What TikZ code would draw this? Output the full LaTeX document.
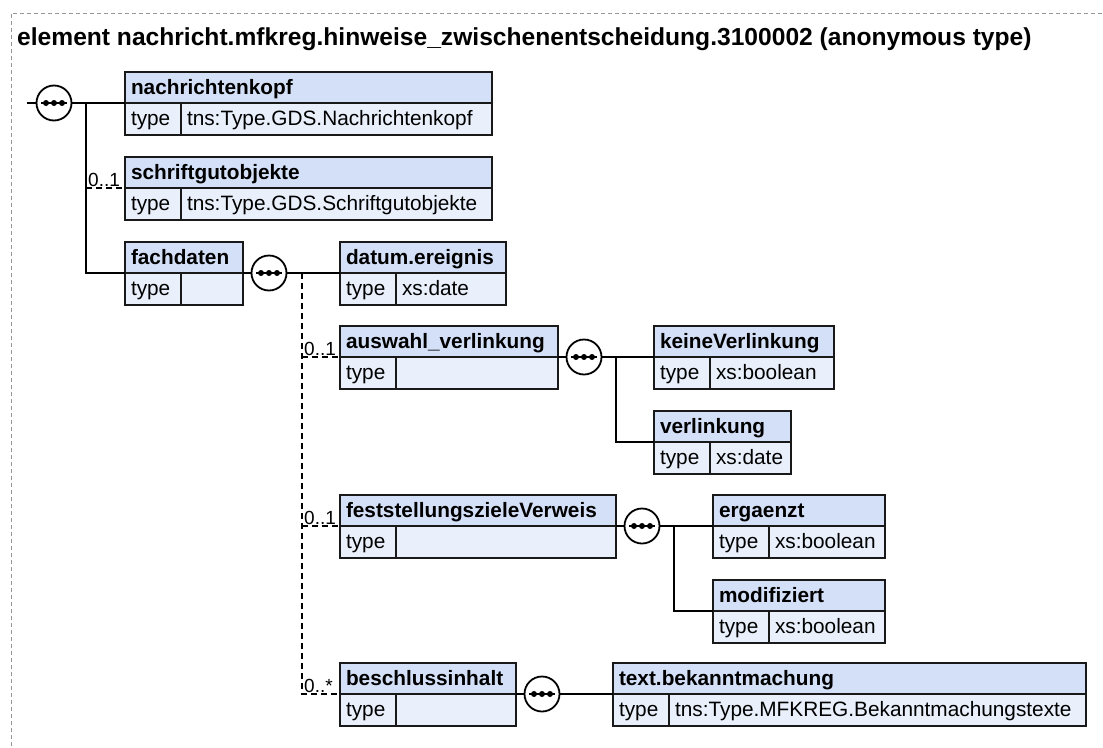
\documentclass[tikz,border=0pt]{standalone}
\usepackage{fontspec}
\setmainfont{Liberation Sans}
\definecolor{hdrfill}{RGB}{212,224,247}
\definecolor{rowfill}{RGB}{233,240,251}
\definecolor{boxline}{RGB}{25,25,25}
\definecolor{framegray}{RGB}{150,150,150}
\tikzset{
  boxtext/.style={font=\fontsize{20.8}{23}\selectfont, text height=15.5pt, text depth=2.5pt},
  hdr/.style={boxtext, font=\fontsize{20.8}{23}\selectfont\bfseries, draw=boxline, line width=2pt, fill=hdrfill,
    inner xsep=6pt, inner ysep=0pt, outer sep=0pt, minimum height=31pt, anchor=north west, align=left},
  tcell/.style={boxtext, draw=boxline, line width=2pt, fill=rowfill, inner xsep=6pt, inner ysep=0pt,
    outer sep=0pt, minimum height=32pt, text width=44pt, anchor=north west, align=left},
  vcell/.style={tcell},
  conn/.style={line width=1.8pt, draw=black},
  optconn/.style={conn, line width=1.6pt, dash pattern=on 6pt off 4pt},
  card/.style={font=\fontsize{19}{21}\selectfont, inner sep=1pt, anchor=south west},
  seq/.style={circle, draw=black, line width=1.8pt, fill=white, minimum size=35pt, inner sep=0pt, outer sep=0pt,
    path picture={
      \draw[draw=black, line width=2pt] ([xshift=-13pt]path picture bounding box.center) -- ([xshift=13pt]path picture bounding box.center);
      \fill[fill=black] ([xshift=-8pt]path picture bounding box.center) circle (3pt);
      \fill[fill=black] (path picture bounding box.center) circle (3pt);
      \fill[fill=black] ([xshift=8pt]path picture bounding box.center) circle (3pt);
    }},
  outerframe/.style={draw=framegray, line width=1pt, dash pattern=on 4pt off 3pt},
}
\newcommand{\xsdelem}[6]{%
  \pgfmathsetmacro{\xhw}{#4-12}\pgfmathsetmacro{\xvw}{#4-68}%
  \node[hdr, text width=\xhw pt] (#1) at (#2,#3) {#5};
  \node[tcell] (#1-t) at (#2,#3+31) {type};
  \node[vcell, text width=\xvw pt] (#1-v) at (#2+56,#3+31) {#6};
}
\begin{document}
\begin{tikzpicture}[x=1pt,y=-1pt]
\useasboundingbox (0,0) rectangle (1103,747);
\draw[outerframe] (11,760) -- (11,13) -- (1110,13);
\node[anchor=base west, inner sep=0pt, font=\fontsize{24.6}{28}\selectfont\bfseries] (title) at (17,45)
  {element nachricht.mfkreg.hinweise\_zwischenentscheidung.3100002 (anonymous type)};

\xsdelem{nk}{125}{72}{367}{nachrichtenkopf}{tns:Type.GDS.Nachrichtenkopf}
\xsdelem{sg}{125}{157}{367}{schriftgutobjekte}{tns:Type.GDS.Schriftgutobjekte}
\xsdelem{fd}{125}{242}{118}{fachdaten}{}
\xsdelem{de}{340}{242}{166}{datum.ereignis}{xs:date}
\xsdelem{av}{340}{326}{218}{auswahl\_verlinkung}{}
\xsdelem{kv}{654}{326}{180}{keineVerlinkung}{xs:boolean}
\xsdelem{vl}{654}{411}{137}{verlinkung}{xs:date}
\xsdelem{fz}{340}{495}{276}{feststellungszieleVerweis}{}
\xsdelem{eg}{713}{495}{172}{ergaenzt}{xs:boolean}
\xsdelem{md}{713}{580}{172}{modifiziert}{xs:boolean}
\xsdelem{bi}{340}{663}{176}{beschlussinhalt}{}
\xsdelem{tb}{613}{663}{473}{text.bekanntmachung}{tns:Type.MFKREG.Bekanntmachungstexte}

% root sequence
\node[seq] (s0) at (54,103) {};
\coordinate (in0) at (27,103);
\coordinate (j0) at (86,103);
\draw[conn] (in0) -- (s0.west);
\draw[conn] (s0.east) -- (nk.south west);
\draw[conn] (j0) |- (fd.south west);
\draw[optconn] (j0 |- sg.south west) -- (sg.south west);
\node[card] (c0) at ([xshift=1pt]j0 |- sg.south west) {0..1};

% fachdaten sequence
\node[seq] (s1) at (269,273) {};
\coordinate (j1) at (302,273);
\draw[conn] (fd.south east) -- (s1.west);
\draw[conn] (s1.east) -- (de.south west);
\draw[optconn] (j1) -- (j1 |- bi.south west) -- (bi.south west);
\draw[optconn] (j1 |- av.south west) -- (av.south west);
\draw[optconn] (j1 |- fz.south west) -- (fz.south west);
\node[card] (c1) at ([xshift=1pt]j1 |- av.south west) {0..1};
\node[card] (c2) at ([xshift=1pt]j1 |- fz.south west) {0..1};
\node[card] (c3) at ([xshift=1pt]j1 |- bi.south west) {0..*};

% auswahl_verlinkung sequence
\node[seq] (s2) at (584,357) {};
\coordinate (j2) at (616,357);
\draw[conn] (av.south east) -- (s2.west);
\draw[conn] (s2.east) -- (kv.south west);
\draw[conn] (j2) |- (vl.south west);

% feststellungszieleVerweis sequence
\node[seq] (s3) at (642,526) {};
\coordinate (j3) at (674,526);
\draw[conn] (fz.south east) -- (s3.west);
\draw[conn] (s3.east) -- (eg.south west);
\draw[conn] (j3) |- (md.south west);

% beschlussinhalt sequence
\node[seq] (s4) at (542,694) {};
\draw[conn] (bi.south east) -- (s4.west);
\draw[conn] (s4.east) -- (tb.south west);
\end{tikzpicture}
\end{document}
